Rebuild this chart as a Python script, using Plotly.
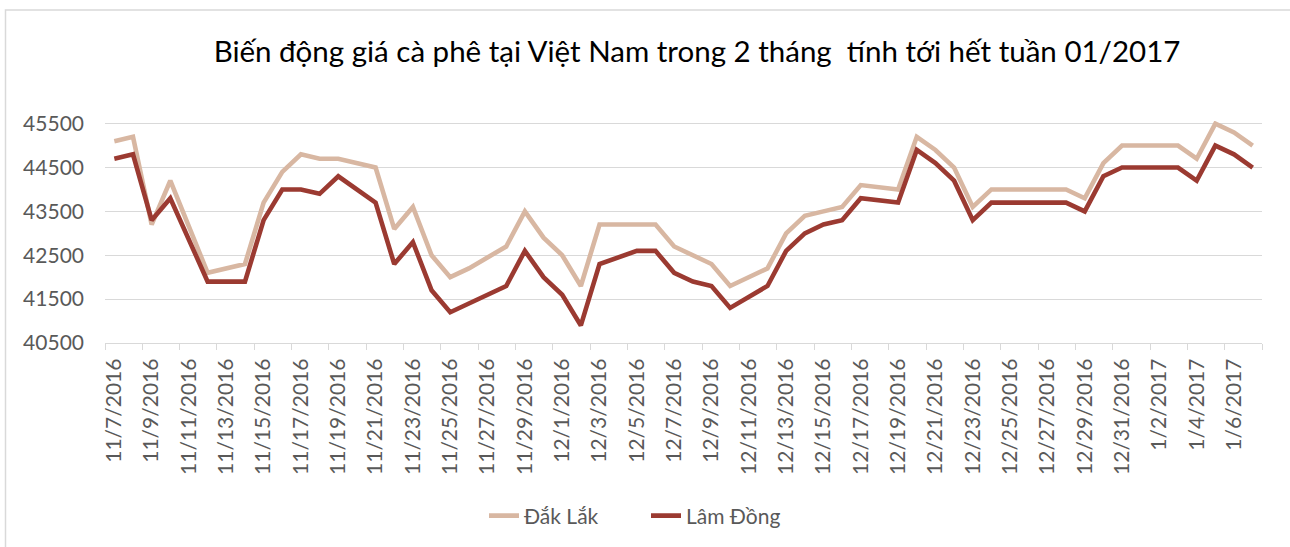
import plotly.graph_objects as go

dates = [
    "2016-11-07", "2016-11-08", "2016-11-09", "2016-11-10", "2016-11-12",
    "2016-11-14", "2016-11-15", "2016-11-16", "2016-11-17", "2016-11-18", "2016-11-19",
    "2016-11-21", "2016-11-22", "2016-11-23", "2016-11-24", "2016-11-25", "2016-11-26",
    "2016-11-28", "2016-11-29", "2016-11-30", "2016-12-01", "2016-12-02", "2016-12-03",
    "2016-12-05", "2016-12-06", "2016-12-07", "2016-12-08", "2016-12-09", "2016-12-10",
    "2016-12-12", "2016-12-13", "2016-12-14", "2016-12-15", "2016-12-16", "2016-12-17",
    "2016-12-19", "2016-12-20", "2016-12-21", "2016-12-22", "2016-12-23", "2016-12-24",
    "2016-12-26", "2016-12-27", "2016-12-28", "2016-12-29", "2016-12-30", "2016-12-31",
    "2017-01-02", "2017-01-03", "2017-01-04", "2017-01-05", "2017-01-06", "2017-01-07",
]

dak_lak = [
    45100, 45200, 43200, 44200, 42100,
    42300, 43700, 44400, 44800, 44700, 44700,
    44500, 43100, 43600, 42500, 42000, 42200,
    42700, 43500, 42900, 42500, 41800, 43200,
    43200, 43200, 42700, 42500, 42300, 41800,
    42200, 43000, 43400, 43500, 43600, 44100,
    44000, 45200, 44900, 44500, 43600, 44000,
    44000, 44000, 44000, 43800, 44600, 45000,
    45000, 45000, 44700, 45500, 45300, 45000,
]

lam_dong = [
    44700, 44800, 43300, 43800, 41900,
    41900, 43300, 44000, 44000, 43900, 44300,
    43700, 42300, 42800, 41700, 41200, 41400,
    41800, 42600, 42000, 41600, 40900, 42300,
    42600, 42600, 42100, 41900, 41800, 41300,
    41800, 42600, 43000, 43200, 43300, 43800,
    43700, 44900, 44600, 44200, 43300, 43700,
    43700, 43700, 43700, 43500, 44300, 44500,
    44500, 44500, 44200, 45000, 44800, 44500,
]

series_names = ["Đắk Lắk", "Lâm Đồng"]
series_colors = ["#d8b7a2", "#9b3a31"]
y_ticks = [40500, 41500, 42500, 43500, 44500, 45500]
title_text = "Biến động giá cà phê tại Việt Nam trong 2 tháng  tính tới hết tuần 01/2017"

W, H = 1290, 547
L, R, T, B = 105, 28, 121, 203
FONT = "Lato"
GRAY = "#595959"

fig = go.Figure()
for name, vals, col in zip(series_names, [dak_lak, lam_dong], series_colors):
    fig.add_trace(go.Scatter(
        x=dates, y=vals, name=name, mode="lines",
        line=dict(color=col, width=4.6, shape="linear"),
    ))

pw = W - L - R
ph = H - T - B

def px_x(p):
    return (p - L) / pw

def px_y(p):
    return (H - B - p) / ph

fig.update_layout(
    width=W, height=H,
    margin=dict(l=L, r=R, t=T, b=B),
    paper_bgcolor="white", plot_bgcolor="white",
    font=dict(family=FONT, color=GRAY, size=21),
    showlegend=True,
    legend=dict(
        orientation="h", x=px_x(484), xanchor="left", y=px_y(516), yanchor="middle",
        font=dict(family=FONT, size=21, color=GRAY),
        entrywidth=117, entrywidthmode="pixels",
        bgcolor="rgba(0,0,0,0)",
    ),
    title=dict(
        text=title_text, x=697 / W, xanchor="center", y=1 - 52 / H, yanchor="middle",
        font=dict(family=FONT, size=29.5, color="#000000"),
    ),
    xaxis=dict(
        type="date",
        range=["2016-11-06 12:00", "2017-01-07 12:00"],
        tickmode="linear", tick0="2016-11-07", dtick=2 * 86400000,
        tickformat="%-m/%-d/%Y", tickangle=-90,
        tickfont=dict(family=FONT, size=21, color=GRAY),
        ticks="", showgrid=False,
        showline=True, linecolor="#d9d9d9", linewidth=1.3,
        minor=dict(ticks="outside", tick0="2016-11-06 12:00", dtick=2 * 86400000,
                   ticklen=6, tickcolor="#d9d9d9", tickwidth=1.3, showgrid=False),
        ticklabelstandoff=6,
        zeroline=False, fixedrange=True,
    ),
    yaxis=dict(
        range=[40500, 45560],
        tickmode="array", tickvals=y_ticks, ticktext=[str(v) for v in y_ticks],
        tickfont=dict(family=FONT, size=21, color=GRAY),
        showgrid=True, gridcolor="#d9d9d9", gridwidth=1.3,
        showline=False, zeroline=False, ticks="",
        ticklabelstandoff=20, fixedrange=True,
    ),
    shapes=[dict(
        type="rect", xref="paper", yref="paper",
        x0=px_x(5.5), x1=px_x(1300), y0=px_y(560), y1=px_y(9.5),
        line=dict(color="#d9d9d9", width=1.5), fillcolor="rgba(0,0,0,0)", layer="below",
    )],
)

fig.write_html(
    "out.html",
    config={"displayModeBar": False},
    post_script="document.body.style.margin='0';document.body.style.overflow='hidden';",
)
